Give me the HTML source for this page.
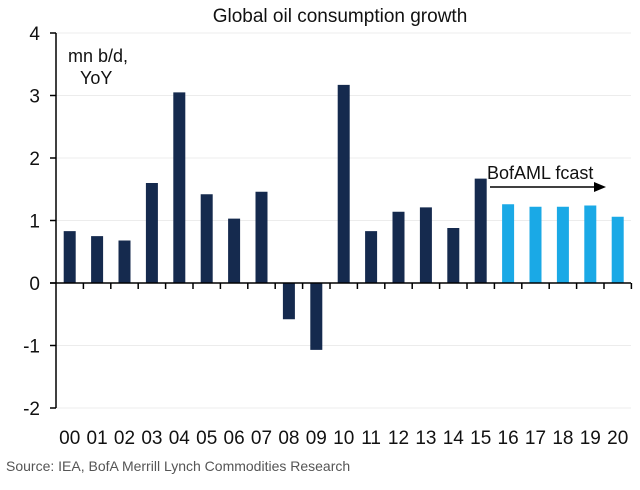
<!DOCTYPE html>
<html><head><meta charset="utf-8"><style>
body{margin:0;background:#fff;}
svg text{font-family:"Liberation Sans",sans-serif;}
</style></head><body>
<svg width="640" height="485" xmlns="http://www.w3.org/2000/svg">
<text x="340" y="22" font-size="19" text-anchor="middle" fill="#111">Global oil consumption growth</text>
<g id="grid"></g>
<g id="bars"></g>
<g id="axes"></g>
<text x="68" y="62" font-size="18" fill="#111">mn b/d,</text>
<text x="80" y="84" font-size="18" fill="#111">YoY</text>
<text x="487" y="179" font-size="18" fill="#111">BofAML fcast</text>
<line x1="490" y1="187" x2="596" y2="187" stroke="#000" stroke-width="1.5"/>
<polygon points="606,187 594,182 594,192" fill="#000"/>
<text x="6" y="471" font-size="14" fill="#555">Source: IEA, BofA Merrill Lynch Commodities Research</text>
<script>
const categories=["00","01","02","03","04","05","06","07","08","09","10","11","12","13","14","15","16","17","18","19","20"];
const values=[0.83,0.75,0.68,1.6,3.05,1.42,1.03,1.46,-0.58,-1.07,3.17,0.83,1.14,1.21,0.88,1.67,1.26,1.22,1.22,1.24,1.06];
const forecastStart=16;
const yTicks=[-2,-1,0,1,2,3,4];
const NS="http://www.w3.org/2000/svg";
const x0=56,cw=27.4,y0=283,unit=62.5;
function y(v){return y0-v*unit;}
function xc(i){return x0+cw*(i+0.5);}
function mk(t,a,p){const e=document.createElementNS(NS,t);for(const k in a)e.setAttribute(k,a[k]);p.appendChild(e);return e;}
const grid=document.getElementById('grid'),bars=document.getElementById('bars'),axes=document.getElementById('axes');
yTicks.forEach(v=>{
 if(v!==0){const g=mk('line',{x1:x0,x2:631,y1:y(v),y2:y(v),stroke:'#ececec','stroke-width':1},grid);
 
 }
 const t=mk('line',{x1:x0-6,x2:x0,y1:y(v),y2:y(v),stroke:'#000','stroke-width':1.5},axes);
 
 
 const l=mk('text',{x:40,y:y(v)+7,'font-size':19,'text-anchor':'end',fill:'#111'},axes);
 l.textContent=v;
 
 
});
values.forEach((v,i)=>{
 const top=Math.min(y(v),y0),h=Math.abs(y(v)-y0);
 const r=mk('rect',{x:xc(i)-6,y:top,width:12,height:h,fill:i>=forecastStart?'#1aa9e6':'#152a4e'},bars);
 
 
 const l=mk('text',{x:xc(i),y:444,'font-size':19,'text-anchor':'middle',fill:'#111'},axes);
 l.textContent=categories[i];
 
 
 const tk=mk('line',{x1:x0+cw*(i+1),x2:x0+cw*(i+1),y1:y0,y2:y0+6,stroke:'#000','stroke-width':1.5},axes);
 
 
});
const ya=mk('line',{x1:x0,x2:x0,y1:y(4),y2:y(-2),stroke:'#000','stroke-width':1.5},axes);


const xa=mk('line',{x1:x0-6,x2:631,y1:y0,y2:y0,stroke:'#000','stroke-width':1.5},axes);


</script>
</svg>
</body></html>
